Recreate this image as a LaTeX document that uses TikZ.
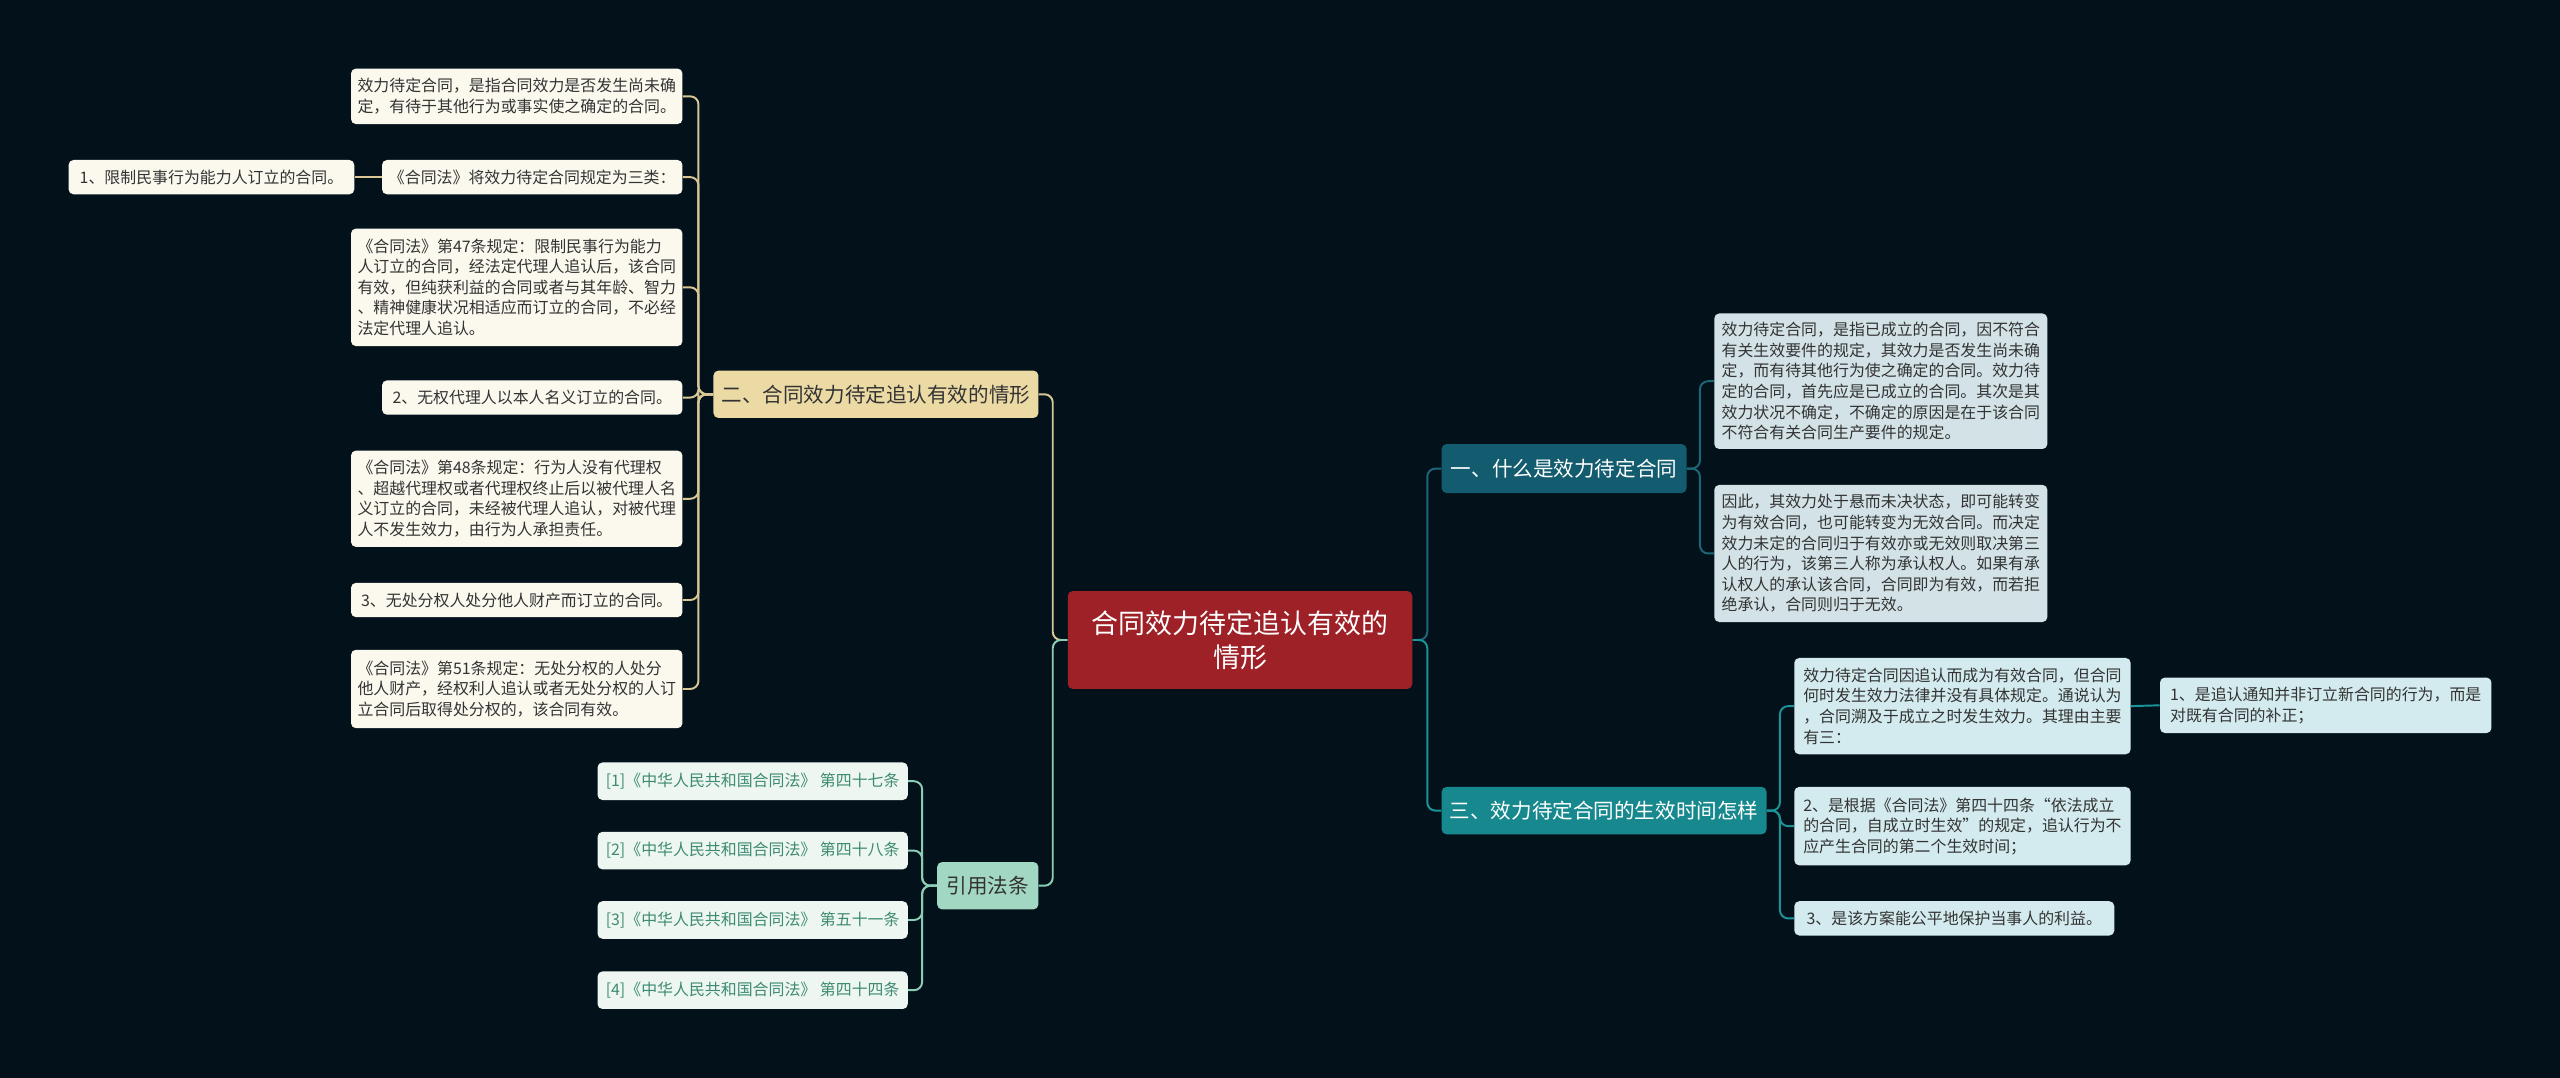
\documentclass[tikz,border=0pt]{standalone}
\usepackage{fontspec}
\setmainfont{Noto Sans CJK SC}
\usepackage{tikz}
\usepackage{xcolor}
\definecolor{bgc}{HTML}{03121A}
\definecolor{redc}{HTML}{9D2127}
\definecolor{tanc}{HTML}{ECDAA5}
\definecolor{tanl}{HTML}{D8C794}
\definecolor{creamc}{HTML}{FBF8EE}
\definecolor{mintc}{HTML}{A2D8C3}
\definecolor{mintl}{HTML}{8CCDB6}
\definecolor{refc}{HTML}{EEF6F2}
\definecolor{reft}{HTML}{3D8B70}
\definecolor{tealA}{HTML}{135B6E}
\definecolor{tealAl}{HTML}{1D6678}
\definecolor{tealB}{HTML}{17898E}
\definecolor{tealBl}{HTML}{1A9399}
\definecolor{bluec}{HTML}{D2E2E7}
\definecolor{cyanc}{HTML}{D3EBEE}
\definecolor{darkt}{HTML}{333333}

\begin{document}
\begin{tikzpicture}[x=1pt,y=-1pt,
  leaf/.style={rounded corners=3pt,inner sep=0pt,align=left,text=darkt,font=\fontsize{9.75}{12.6}\selectfont},
  branch/.style={rounded corners=3pt,inner sep=0pt,align=center,font=\fontsize{12.6}{15}\selectfont},
  link/.style={line width=1.2pt,rounded corners=5pt}]
\fill[bgc] (0,0) rectangle (1568,660);
\useasboundingbox (0,0) rectangle (1568,660);

\node[branch,fill=redc,text=white,font=\fontsize{16.5}{21}\selectfont,minimum width=211pt,minimum height=60pt] (c) at (759.5,392) {合同效力待定追认有效的\\情形};

\node[branch,fill=tanc,text=darkt,minimum width=199pt,minimum height=29pt] (b2) at (536.5,241.5) {二、合同效力待定追认有效的情形};
\node[branch,fill=mintc,text=darkt,minimum width=62pt,minimum height=29pt] (b4) at (605,542.5) {引用法条};
\node[branch,fill=tealA,text=white,minimum width=150pt,minimum height=30pt] (b1) at (958,287) {一、什么是效力待定合同};
\node[branch,fill=tealB,text=white,minimum width=199pt,minimum height=29pt] (b3) at (982.5,496.5) {三、效力待定合同的生效时间怎样};

\node[leaf,fill=creamc,minimum width=203pt,minimum height=34pt] (l1) at (316.5,59) {效力待定合同，是指合同效力是否发生尚未确\\定，有待于其他行为或事实使之确定的合同。};
\node[leaf,fill=creamc,minimum width=184pt,minimum height=21pt] (l2) at (326,108.5) {《合同法》将效力待定合同规定为三类：};
\node[leaf,fill=creamc,minimum width=175pt,minimum height=21pt] (l2a) at (129.5,108.5) {1、限制民事行为能力人订立的合同。};
\node[leaf,fill=creamc,minimum width=203pt,minimum height=72pt] (l3) at (316.5,176) {《合同法》第47条规定：限制民事行为能力\\人订立的合同，经法定代理人追认后，该合同\\有效，但纯获利益的合同或者与其年龄、智力\\、精神健康状况相适应而订立的合同，不必经\\法定代理人追认。};
\node[leaf,fill=creamc,minimum width=184pt,minimum height=21pt] (l4) at (326,243.5) {2、无权代理人以本人名义订立的合同。};
\node[leaf,fill=creamc,minimum width=203pt,minimum height=59pt] (l5) at (316.5,305.5) {《合同法》第48条规定：行为人没有代理权\\、超越代理权或者代理权终止后以被代理人名\\义订立的合同，未经被代理人追认，对被代理\\人不发生效力，由行为人承担责任。};
\node[leaf,fill=creamc,minimum width=203pt,minimum height=21pt] (l6) at (316.5,367.5) {3、无处分权人处分他人财产而订立的合同。};
\node[leaf,fill=creamc,minimum width=203pt,minimum height=48pt] (l7) at (316.5,422) {《合同法》第51条规定：无处分权的人处分\\他人财产，经权利人追认或者无处分权的人订\\立合同后取得处分权的，该合同有效。};

\node[leaf,fill=refc,text=reft,minimum width=190pt,minimum height=23pt] (r1) at (461,478.5) {[1]《中华人民共和国合同法》 第四十七条};
\node[leaf,fill=refc,text=reft,minimum width=190pt,minimum height=23pt] (r2) at (461,521) {[2]《中华人民共和国合同法》 第四十八条};
\node[leaf,fill=refc,text=reft,minimum width=190pt,minimum height=23pt] (r3) at (461,563.5) {[3]《中华人民共和国合同法》 第五十一条};
\node[leaf,fill=refc,text=reft,minimum width=190pt,minimum height=23pt] (r4) at (461,606.5) {[4]《中华人民共和国合同法》 第四十四条};

\node[leaf,fill=bluec,minimum width=204pt,minimum height=83pt] (a1) at (1152,233.5) {效力待定合同，是指已成立的合同，因不符合\\有关生效要件的规定，其效力是否发生尚未确\\定，而有待其他行为使之确定的合同。效力待\\定的合同，首先应是已成立的合同。其次是其\\效力状况不确定，不确定的原因是在于该合同\\不符合有关合同生产要件的规定。};
\node[leaf,fill=bluec,minimum width=204pt,minimum height=84pt] (a2) at (1152,339) {因此，其效力处于悬而未决状态，即可能转变\\为有效合同，也可能转变为无效合同。而决定\\效力未定的合同归于有效亦或无效则取决第三\\人的行为，该第三人称为承认权人。如果有承\\认权人的承认该合同，合同即为有效，而若拒\\绝承认，合同则归于无效。};

\node[leaf,fill=cyanc,minimum width=206pt,minimum height=59pt] (s1) at (1202,432.5) {效力待定合同因追认而成为有效合同，但合同\\何时发生效力法律并没有具体规定。通说认为\\，合同溯及于成立之时发生效力。其理由主要\\有三：};
\node[leaf,fill=cyanc,minimum width=203pt,minimum height=34pt] (s1a) at (1424.5,432) {1、是追认通知并非订立新合同的行为，而是\\对既有合同的补正；};
\node[leaf,fill=cyanc,minimum width=206pt,minimum height=48pt] (s2) at (1202,506) {2、是根据《合同法》第四十四条“依法成立\\的合同，自成立时生效”的规定，追认行为不\\应产生合同的第二个生效时间；};
\node[leaf,fill=cyanc,minimum width=196pt,minimum height=21pt] (s3) at (1197,562.5) {3、是该方案能公平地保护当事人的利益。};

\draw[link,tanl] (c.west) -- ++(-9,0) |- (b2.east);
\draw[link,mintl] (c.west) -- ++(-9,0) |- (b4.east);
\draw[link,tealAl] (c.east) -- ++(9,0) |- (b1.west);
\draw[link,tealBl] (c.east) -- ++(9,0) |- (b3.west);
\foreach \n in {l1,l2,l3,l4,l5,l6,l7}
  \draw[link,tanl] (b2.west) -- ++(-9,0) |- (\n.east);
\draw[link,tanl] (l2.west) -- (l2a.east);
\foreach \n in {r1,r2,r3,r4}
  \draw[link,mintl] (b4.west) -- ++(-9,0) |- (\n.east);
\foreach \n in {a1,a2}
  \draw[link,tealAl] (b1.east) -- ++(8,0) |- (\n.west);
\foreach \n in {s1,s2,s3}
  \draw[link,tealBl] (b3.east) -- ++(8,0) |- (\n.west);
\draw[link,tealBl] (s1.east) -- (s1a.west);
\end{tikzpicture}
\end{document}
